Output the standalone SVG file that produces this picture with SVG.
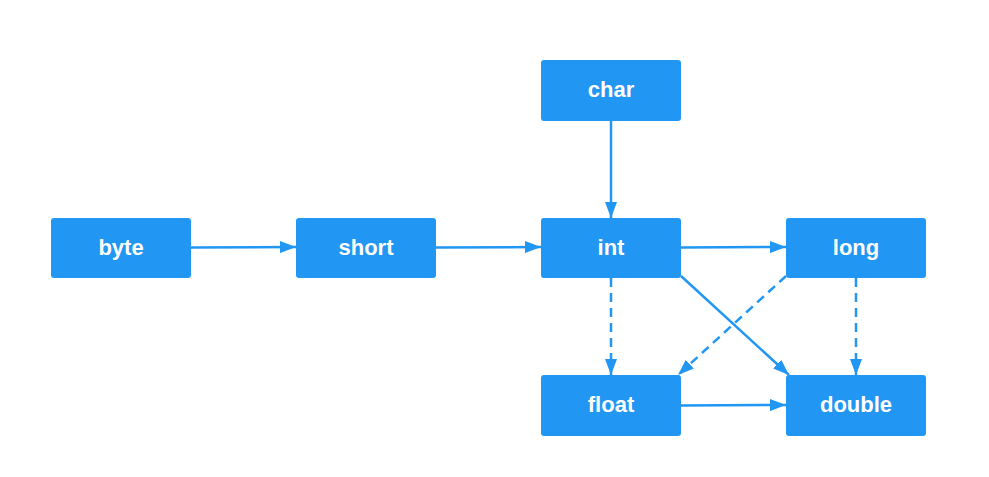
<svg xmlns="http://www.w3.org/2000/svg" width="989" height="477" viewBox="0 0 989 477">
<style>
.n rect{fill:#2196F3;}
.n text{fill:#fff;font-family:"Liberation Sans",Arial,sans-serif;font-weight:bold;font-size:22px;text-anchor:middle;dominant-baseline:central;}
.e{stroke:#2196F3;stroke-width:2.5;fill:none;marker-end:url(#a);}
.d{stroke-dasharray:9,6;}
</style>
<defs>
<marker id="a" viewBox="0 0 16 12" refX="16" refY="6" markerWidth="16" markerHeight="12" markerUnits="userSpaceOnUse" orient="auto">
<path d="M0,0 L16,6 L0,12 Z" fill="#2196F3"/>
</marker>
</defs>
<rect width="989" height="477" fill="#fff"/>
<g id="edges">
<line class="e" x1="191" y1="247.5" x2="296" y2="247"/>
<line class="e" x1="436" y1="247.5" x2="541" y2="247"/>
<line class="e" x1="611" y1="121" x2="611" y2="218"/>
<line class="e" x1="681" y1="247.5" x2="786" y2="247"/>
<line class="e d" x1="611" y1="278" x2="611" y2="375"/>
<line class="e d" x1="856" y1="278" x2="856" y2="375"/>
<line class="e d" x1="786" y1="276" x2="678" y2="375"/>
<line class="e" x1="681" y1="276" x2="789" y2="375"/>
<line class="e" x1="681" y1="405.5" x2="786" y2="405"/>
</g>
<g id="byte" class="n"><rect x="51" y="218" width="140" height="60" rx="3"/><text x="121" y="247">byte</text></g>
<g id="short" class="n"><rect x="296" y="218" width="140" height="60" rx="3"/><text x="366" y="247">short</text></g>
<g id="char" class="n"><rect x="541" y="60" width="140" height="61" rx="3"/><text x="611" y="89">char</text></g>
<g id="int" class="n"><rect x="541" y="218" width="140" height="60" rx="3"/><text x="611" y="247">int</text></g>
<g id="long" class="n"><rect x="786" y="218" width="140" height="60" rx="3"/><text x="856" y="247">long</text></g>
<g id="float" class="n"><rect x="541" y="375" width="140" height="61" rx="3"/><text x="611" y="404">float</text></g>
<g id="double" class="n"><rect x="786" y="375" width="140" height="61" rx="3"/><text x="856" y="404">double</text></g>
</svg>
